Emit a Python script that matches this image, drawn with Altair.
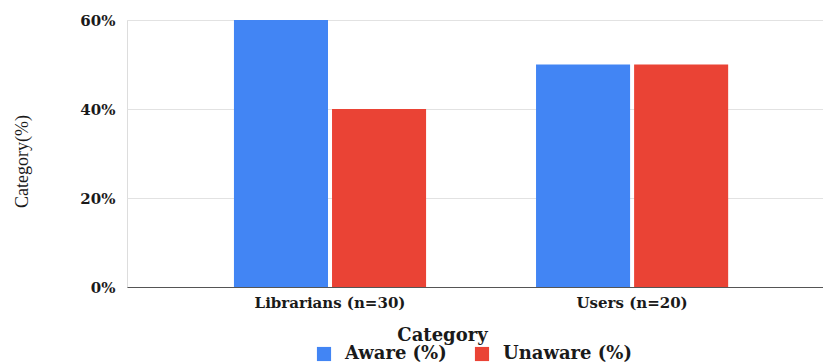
import altair as alt
import pandas as pd

# Awareness by respondent group
groups = ["Librarians (n=30)", "Users (n=20)"]
series = ["Aware (%)", "Unaware (%)"]
aware = [60, 50]
unaware = [40, 50]
colors = ["#4285F4", "#EA4335"]
y_ticks = [0, 20, 40, 60]

rows = []
for g, a, u in zip(groups, aware, unaware):
    rows.append({"group": g, "series": series[0], "value": a})
    rows.append({"group": g, "series": series[1], "value": u})
df = pd.DataFrame(rows)

label_font = "DejaVu Serif"
text_color = "#1a1a1a"

chart = (
    alt.Chart(df)
    .mark_bar()
    .encode(
        x=alt.X(
            "group:N",
            sort=groups,
            scale=alt.Scale(paddingInner=0.364, paddingOuter=0.334, align=0.53),
            axis=alt.Axis(
                title="Category",
                labelAngle=0,
                ticks=False,
                labelPadding=8,
                labelFont=label_font,
                labelFontWeight="bold",
                labelFontSize=15,
                labelColor=text_color,
                domainColor="#555555",
                domainWidth=1,
                titleFont=label_font,
                titleFontWeight="bold",
                titleFontSize=18,
                titleColor=text_color,
                titleX=315,
                titleY=53,
                titleAlign="center",
                titleBaseline="alphabetic",
            ),
        ),
        xOffset=alt.XOffset(
            "series:N", sort=series, scale=alt.Scale(paddingInner=0.041, paddingOuter=0)
        ),
        y=alt.Y(
            "value:Q",
            scale=alt.Scale(domain=[0, 60], nice=False),
            axis=alt.Axis(
                values=y_ticks,
                labelExpr="datum.value + '%'",
                title="Category(%)",
                domain=False,
                ticks=False,
                labelPadding=12,
                labelFont=label_font,
                labelFontWeight="bold",
                labelFontSize=15,
                labelColor=text_color,
                gridColor="#e2e2e2",
                gridWidth=1.2,
                titleFont="Liberation Serif",
                titleFontWeight="normal",
                titleFontSize=18,
                titleColor=text_color,
                titleX=-105,
                titleY=141,
                titleAngle=-90,
                titleAlign="center",
                titleBaseline="middle",
            ),
        ),
        color=alt.Color(
            "series:N",
            sort=series,
            scale=alt.Scale(domain=series, range=colors),
            legend=alt.Legend(
                title=None,
                orient="none",
                direction="horizontal",
                legendX=188,
                legendY=325,
                symbolType="square",
                symbolSize=200,
                symbolStrokeWidth=0,
                labelOffset=12,
                columnPadding=26,
                labelFont=label_font,
                labelFontWeight="bold",
                labelFontSize=18,
                labelColor=text_color,
            ),
        ),
    )
    .properties(
        width=696,
        height=267,
        autosize="none",
        padding={"left": 127, "top": 20, "right": 0, "bottom": 76},
    )
    .configure_view(stroke=None)
    .configure(background="white")
)

chart.save("out.html", embed_options={"renderer": "svg", "actions": False})
